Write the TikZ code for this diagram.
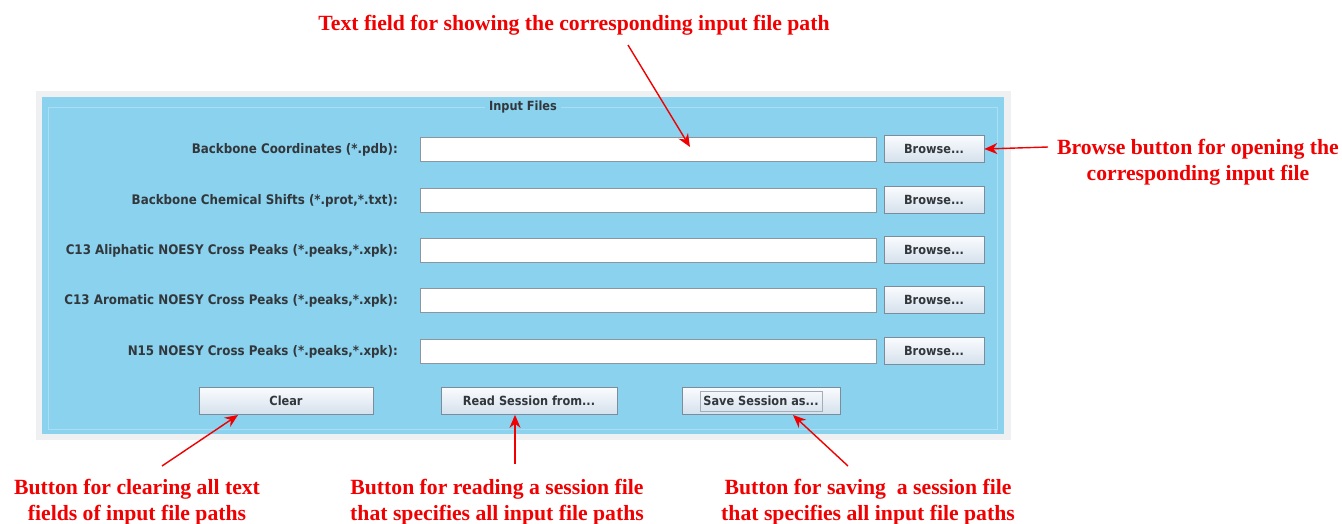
\documentclass[tikz,border=0pt]{standalone}
\usepackage{fontspec}
\setmainfont{Liberation Serif}
\newfontfamily\guifont{DejaVu Sans Condensed}
\usetikzlibrary{arrows.meta}
\definecolor{panelblue}{RGB}{138,210,238}
\definecolor{panelline}{RGB}{170,222,242}
\definecolor{frame}{RGB}{238,240,241}
\definecolor{fieldborder}{RGB}{140,150,158}
\definecolor{btnborder}{RGB}{125,140,155}
\definecolor{btntop}{RGB}{250,252,254}
\definecolor{btnbot}{RGB}{212,224,236}
\definecolor{guitext}{RGB}{50,55,60}
\definecolor{annored}{RGB}{240,0,0}
\tikzset{
  px/.style={x=1pt,y=-1pt},
  guifnt/.style={font=\guifont\bfseries\fontsize{12.6}{14}\selectfont,text=guitext},
  field/.style={draw=fieldborder,fill=white,line width=0.8pt,minimum width=456pt,minimum height=24pt,inner sep=0pt},
  btn/.style={draw=btnborder,top color=btntop,bottom color=btnbot,line width=0.7pt,minimum height=27pt,inner sep=0pt,guifnt},
  lbl/.style={anchor=east,inner sep=0pt,font=\guifont\bfseries\fontsize{13.2}{15}\selectfont,text=guitext},
  anno/.style={text=annored,font=\bfseries\fontsize{21.7}{25.5}\selectfont,align=center,inner sep=0pt},
  arr/.style={draw=annored,line width=1.4pt,-{Stealth[length=13pt,width=11pt]}}
}
\begin{document}
\begin{tikzpicture}[px]
\useasboundingbox (0,0) rectangle (1342,523);
\fill[white] (0,0) rectangle (1342,523);
% panel
\fill[frame] (36,91) rectangle (1011,440);
\fill[panelblue] (42,97) rectangle (1004,434);
\draw[panelline,line width=1pt] (48,107) -- (997,107) -- (997,429) -- (48,429) -- cycle;
\node[fill=panelblue,inner xsep=4pt,inner ysep=1pt,guifnt] (title) at (523,107) {Input Files};
% rows
\node[lbl] (l1) at (398,150) {Backbone Coordinates (*.pdb):};
\node[lbl] (l2) at (398,201) {Backbone Chemical Shifts (*.prot,*.txt):};
\node[lbl] (l3) at (398,251) {C13 Aliphatic NOESY Cross Peaks (*.peaks,*.xpk):};
\node[lbl] (l4) at (398,301) {C13 Aromatic NOESY Cross Peaks (*.peaks,*.xpk):};
\node[lbl] (l5) at (398,352) {N15 NOESY Cross Peaks (*.peaks,*.xpk):};
\node[field] (f1) at (648,149) {};
\node[field] (f2) at (648,200) {};
\node[field] (f3) at (648,250) {};
\node[field] (f4) at (648,300) {};
\node[field] (f5) at (648,351) {};
\node[btn,minimum width=100pt] (b1) at (934,149) {Browse...};
\node[btn,minimum width=100pt] (b2) at (934,200) {Browse...};
\node[btn,minimum width=100pt] (b3) at (934,250) {Browse...};
\node[btn,minimum width=100pt] (b4) at (934,300) {Browse...};
\node[btn,minimum width=100pt] (b5) at (934,351) {Browse...};
% bottom buttons
\node[btn,minimum width=174pt] (clear) at (286,401) {Clear};
\node[btn,minimum width=176pt] (read) at (529,401) {Read Session from...};
\node[btn,minimum width=158pt] (save) at (761,401) {Save Session as...};
\draw[btnborder!70,line width=0.5pt] (700,391) rectangle (822,411);
% annotations
\node[anno] (tTop) at (574,25) {Text field for showing the corresponding input file path};
\node[anno] (tBrowse) at (1198,162) {Browse button for opening the\\corresponding input file};
\node[anno] (tClear) at (137,502) {Button for clearing all text\\fields of input file paths};
\node[anno] (tRead) at (497,502) {Button for reading a session file\\that specifies all input file paths};
\node[anno] (tSave) at (868,502) {Button for saving\ \ a session file\\that specifies all input file paths};
\coordinate (sTop) at (628,45);
\coordinate (eTop) at (690,147);
\coordinate (sBr) at (1048,147);
\coordinate (sCl) at (162,466);
\coordinate (eCl) at (238,415);
\coordinate (sRd) at (515,464);
\coordinate (sSv) at (848,466);
\coordinate (eSv) at (793,415);
\draw[arr] (sTop) -- (eTop);
\draw[arr] (sBr) -- (b1.east);
\draw[arr] (sCl) -- (eCl);
\draw[arr] (sRd) -- (sRd |- read.south);
\draw[arr] (sSv) -- (eSv);
\end{tikzpicture}
\end{document}
